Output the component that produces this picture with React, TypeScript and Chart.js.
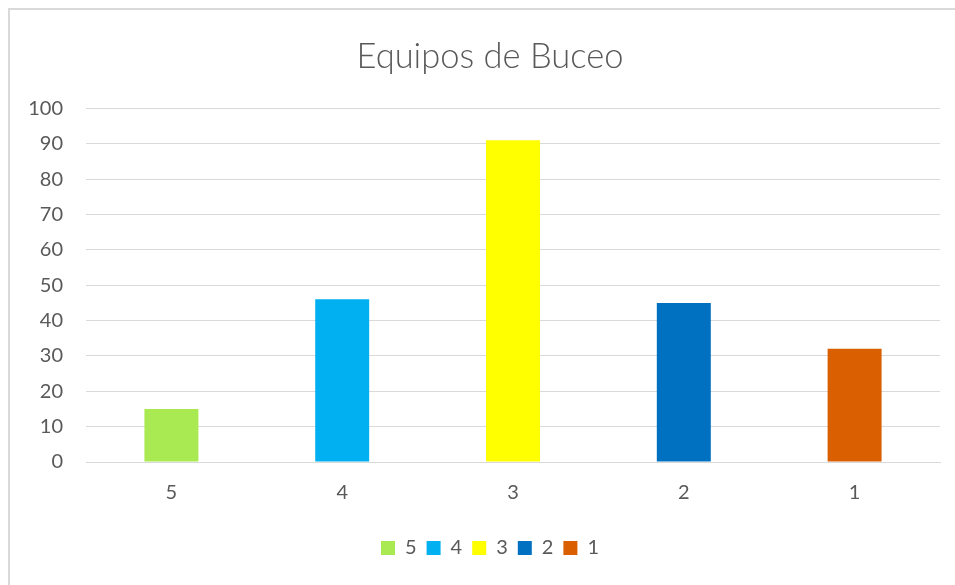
import React, { useEffect, useRef } from "react";
import { Chart, registerables } from "chart.js";

Chart.register(...registerables);

const titleText = "Equipos de Buceo";
const categories = ["5", "4", "3", "2", "1"];
const values = [15, 46, 91, 45, 32];
const barColors = ["#a9ea52", "#00b0f0", "#ffff00", "#0070c0", "#d95f00"];
const yMin = 0;
const yMax = 100;
const yStep = 10;

const FONT = "Lato, 'Open Sans', sans-serif";
const TEXT = "#595959";
const GRID = "#d9d9d9";

export default function App() {
  const canvasRef = useRef<HTMLCanvasElement | null>(null);

  useEffect(() => {
    if (!canvasRef.current) return;
    const chart = new Chart(canvasRef.current, {
      type: "bar",
      data: {
        labels: categories,
        datasets: [
          {
            label: "Serie",
            data: values,
            backgroundColor: barColors,
            borderWidth: 0,
            barPercentage: 0.316,
            categoryPercentage: 1,
          },
        ],
      },
      options: {
        animation: false,
        responsive: true,
        maintainAspectRatio: false,
        layout: { padding: { top: 0, right: 0, bottom: 17, left: 0 } },
        plugins: {
          title: {
            display: true,
            text: titleText,
            color: TEXT,
            font: { family: FONT, size: 34.5, weight: 300, lineHeight: 1.2 },
            padding: { top: 26, bottom: 31 },
          },
          legend: {
            display: true,
            position: "bottom",
            labels: {
              boxWidth: 14,
              boxHeight: 14,
              padding: 10,
              color: TEXT,
              font: { family: FONT, size: 20 },
              generateLabels: () =>
                categories.map((c, i) => ({
                  text: c,
                  fillStyle: barColors[i],
                  strokeStyle: barColors[i],
                  lineWidth: 0,
                  hidden: false,
                  index: i,
                  datasetIndex: 0,
                  fontColor: TEXT,
                })),
            },
            onClick: () => {},
          },
          tooltip: { enabled: false },
        },
        scales: {
          x: {
            grid: { display: false, drawTicks: false },
            border: { display: true, color: GRID, width: 1 },
            ticks: {
              color: TEXT,
              font: { family: FONT, size: 20 },
              padding: 19,
            },
            afterFit: (scale: any) => {
              scale.height = 66;
            },
          },
          y: {
            min: yMin,
            max: yMax,
            grid: { color: GRID, lineWidth: 1, drawTicks: false },
            border: { display: false },
            ticks: {
              stepSize: yStep,
              color: TEXT,
              font: { family: FONT, size: 20 },
              padding: 23,
            },
            afterFit: (scale: any) => {
              scale.width = 76;
            },
          },
          yRightSpace: {
            position: "right",
            min: yMin,
            max: yMax,
            grid: { display: false, drawTicks: false },
            border: { display: false },
            ticks: { display: false },
            afterFit: (scale: any) => {
              scale.width = 30;
            },
          },
        },
      },
    });
    return () => chart.destroy();
  }, []);

  return (
    <div
      style={{
        position: "fixed",
        left: 8,
        top: 8,
        width: 960,
        height: 575,
        borderLeft: "2px solid #d9d9d9",
        borderTop: "2px solid #d9d9d9",
        background: "#ffffff",
      }}
    >
      <canvas ref={canvasRef} />
    </div>
  );
}
